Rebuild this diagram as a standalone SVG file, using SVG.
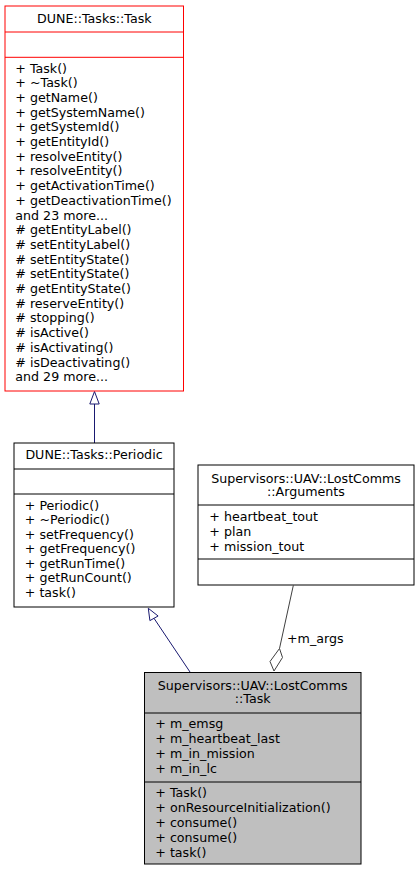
<svg xmlns="http://www.w3.org/2000/svg" width="420" height="872" viewBox="0 0 420 872">
<style>
text{font-family:"DejaVu Sans","Noto Sans",sans-serif;font-size:12.65px;fill:#000}
.h{text-anchor:middle}
.box{fill:#fff;stroke:#000;stroke-width:1}
.red{stroke:#ff0000}
.grey{fill:#bfbfbf}
.sep{stroke:#000;stroke-width:1}
.sepr{stroke:#ff0000;stroke-width:1}
.inh{stroke:#191970;stroke-width:1;fill:none}
.head{stroke:#191970;stroke-width:1;fill:#fff}
.agg{stroke:#404040;stroke-width:1;fill:none}
.dia{stroke:#404040;stroke-width:1;fill:#fff}
</style>
<rect width="420" height="872" fill="#fff"/>
<g id="connectors">
<line class="inh" x1="94.5" y1="443" x2="94.5" y2="404"/>
<polygon class="head" points="94.5,391.5 89.8,404 99.2,404"/>
<line class="inh" x1="190" y1="672" x2="154" y2="618.3"/>
<polygon class="head" points="148.3,608.3 158.1,616 149.9,620.6"/>
<line class="agg" x1="293.3" y1="585.5" x2="279.5" y2="648.5"/>
<polygon class="dia" points="279.5,648.5 282.5,657.5 274,671 270,661.5"/>
<text x="287" y="643">+m_args</text>
</g>
<g id="task">
<rect class="box red" x="5" y="6" width="178.5" height="385"/>
<line class="sepr" x1="5" y1="32" x2="183.5" y2="32"/>
<line class="sepr" x1="5" y1="57.3" x2="183.5" y2="57.3"/>
<text class="h" x="94.3" y="23">DUNE::Tasks::Task</text>
<text x="15.3" y="72.5">+ Task()</text>
<text x="15.3" y="87.2">+ ~Task()</text>
<text x="15.3" y="101.9">+ getName()</text>
<text x="15.3" y="116.6">+ getSystemName()</text>
<text x="15.3" y="131.3">+ getSystemId()</text>
<text x="15.3" y="146">+ getEntityId()</text>
<text x="15.3" y="160.7">+ resolveEntity()</text>
<text x="15.3" y="175.4">+ resolveEntity()</text>
<text x="15.3" y="190.1">+ getActivationTime()</text>
<text x="15.3" y="204.8">+ getDeactivationTime()</text>
<text x="15.3" y="219.5">and 23 more...</text>
<text x="15.3" y="234.2"># getEntityLabel()</text>
<text x="15.3" y="248.9"># setEntityLabel()</text>
<text x="15.3" y="263.6"># setEntityState()</text>
<text x="15.3" y="278.3"># setEntityState()</text>
<text x="15.3" y="293"># getEntityState()</text>
<text x="15.3" y="307.7"># reserveEntity()</text>
<text x="15.3" y="322.4"># stopping()</text>
<text x="15.3" y="337.1"># isActive()</text>
<text x="15.3" y="351.8"># isActivating()</text>
<text x="15.3" y="366.5"># isDeactivating()</text>
<text x="15.3" y="381.2">and 29 more...</text>
</g>
<g id="periodic">
<rect class="box" x="14" y="443" width="160" height="164"/>
<line class="sep" x1="14" y1="469" x2="174" y2="469"/>
<line class="sep" x1="14" y1="494" x2="174" y2="494"/>
<text class="h" x="94" y="458.5">DUNE::Tasks::Periodic</text>
<text x="24.8" y="509.7">+ Periodic()</text>
<text x="24.8" y="524.2">+ ~Periodic()</text>
<text x="24.8" y="538.7">+ setFrequency()</text>
<text x="24.8" y="553.2">+ getFrequency()</text>
<text x="24.8" y="567.7">+ getRunTime()</text>
<text x="24.8" y="582.2">+ getRunCount()</text>
<text x="24.8" y="596.7">+ task()</text>
</g>
<g id="arguments">
<rect class="box" x="198" y="465" width="216" height="120"/>
<line class="sep" x1="198" y1="505" x2="414" y2="505"/>
<line class="sep" x1="198" y1="559" x2="414" y2="559"/>
<text class="h" x="306" y="482.8">Supervisors::UAV::LostComms</text>
<text class="h" x="306" y="496.2">::Arguments</text>
<text x="209.3" y="520.7">+ heartbeat_tout</text>
<text x="209.3" y="535.5">+ plan</text>
<text x="209.3" y="550.5">+ mission_tout</text>
</g>
<g id="lostcomms_task">
<rect class="box grey" x="144.5" y="672.5" width="216.5" height="191.5"/>
<line class="sep" x1="144.5" y1="713" x2="361" y2="713"/>
<line class="sep" x1="144.5" y1="782" x2="361" y2="782"/>
<text class="h" x="252.7" y="689.5">Supervisors::UAV::LostComms</text>
<text class="h" x="252.7" y="703">::Task</text>
<text x="155.3" y="728">+ m_emsg</text>
<text x="155.3" y="743">+ m_heartbeat_last</text>
<text x="155.3" y="758">+ m_in_mission</text>
<text x="155.3" y="773">+ m_in_lc</text>
<text x="155.3" y="797.3">+ Task()</text>
<text x="155.3" y="812.3">+ onResourceInitialization()</text>
<text x="155.3" y="827.2">+ consume()</text>
<text x="155.3" y="842.2">+ consume()</text>
<text x="155.3" y="857.3">+ task()</text>
</g>
</svg>
